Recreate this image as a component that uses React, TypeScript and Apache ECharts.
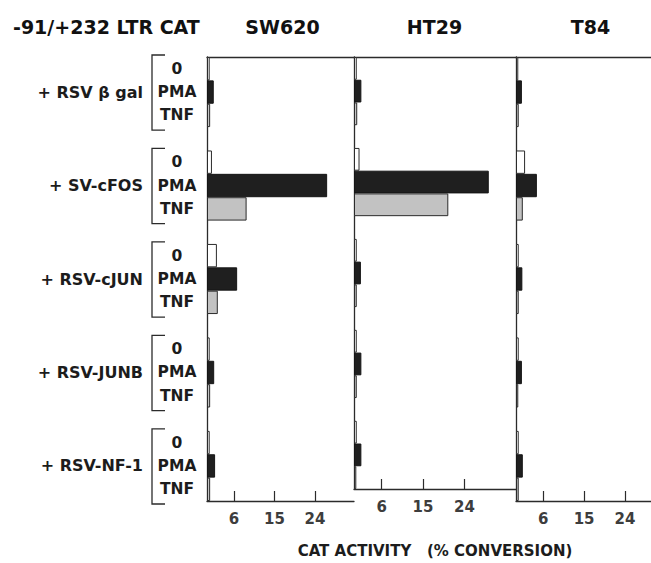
import React, { useEffect, useRef } from 'react';
import * as echarts from 'echarts';

// ---------- data ----------
const mainTitle = '-91/+232 LTR CAT';
const cellLines = ['SW620', 'HT29', 'T84'];
const groups = ['+ RSV β gal', '+ SV-cFOS', '+ RSV-cJUN', '+ RSV-JUNB', '+ RSV-NF-1'];
const conditions = ['0', 'PMA', 'TNF'];
const tickValues = [6, 15, 24];
const axisTitle = 'CAT ACTIVITY   (% CONVERSION)';

// values per group (β gal, cFOS, cJUN, JUNB, NF-1), % conversion
const sw620Zero = [0.6, 1.1, 2.2, 0.6, 0.6];
const sw620Pma = [1.5, 26.7, 6.7, 1.6, 1.8];
const sw620Tnf = [0.7, 8.8, 2.4, 0.7, 0.7];

const ht29Zero = [0.6, 1.2, 0.6, 0.6, 0.6];
const ht29Pma = [1.6, 29.3, 1.5, 1.6, 1.6];
const ht29Tnf = [0.7, 20.5, 0.6, 0.6, 0.5];

const t84Zero = [0.5, 2.0, 0.6, 0.6, 0.6];
const t84Pma = [1.3, 4.6, 1.4, 1.3, 1.5];
const t84Tnf = [0.6, 1.5, 0.6, 0.5, 0.6];

const panelValues = [
  [sw620Zero, sw620Pma, sw620Tnf],
  [ht29Zero, ht29Pma, ht29Tnf],
  [t84Zero, t84Pma, t84Tnf],
];

// ---------- layout / style ----------
const FONT = '"DejaVu Sans", "Liberation Sans", sans-serif';
const INK = '#1c1c1c';
const LINE = '#2b2b2b';
const GRID_TOP = 57;
const GRID_H = 444;
const panels = [
  { left: 207, width: 147, max: 147 / 4.5 },
  { left: 354, width: 162, max: 162 / 4.6 },
  { left: 516, width: 135, max: 135 / 4.54 },
];
const condStyles = [
  { color: '#ffffff', borderColor: LINE, borderWidth: 1 },
  { color: '#1f1f1f', borderColor: '#151515', borderWidth: 1 },
  { color: '#c2c2c2', borderColor: LINE, borderWidth: 1 },
];

// slots along the category axis: 3 conditions per group + a gap slot between groups
const slotIds: string[] = [];
const slotGroup: number[] = [];
const slotCond: number[] = [];
groups.forEach((g, gi) => {
  conditions.forEach((c, ci) => {
    slotIds.push(`${gi}-${ci}`);
    slotGroup.push(gi);
    slotCond.push(ci);
  });
  if (gi < groups.length - 1) {
    slotIds.push(`${gi}-gap`);
    slotGroup.push(gi);
    slotCond.push(-1);
  }
});

export default function App() {
  const ref = useRef<HTMLDivElement>(null);

  useEffect(() => {
    if (!ref.current) return;
    const chart = echarts.init(ref.current, undefined, { renderer: 'svg' });

    const grid = panels.map((p) => ({
      left: p.left,
      top: GRID_TOP,
      width: p.width,
      height: GRID_H,
      show: false,
      containLabel: false,
    }));

    const xAxis: any[] = panels.map((p, i) => ({
      type: 'value',
      gridIndex: i,
      min: 0,
      max: p.max,
      position: 'bottom',
      axisLine: { show: true, lineStyle: { color: LINE, width: 1.3 } },
      axisTick: {
        show: true,
        inside: true,
        length: 10,
        customValues: tickValues,
        lineStyle: { color: LINE, width: 1.2 },
      },
      axisLabel: {
        show: true,
        customValues: tickValues,
        margin: 10,
        fontFamily: FONT,
        fontWeight: 'bold',
        fontSize: 15,
        color: '#3d3d3d',
      },
      splitLine: { show: false },
      name: i === 1 ? axisTitle : '',
      nameLocation: 'middle',
      nameGap: 54,
      nameTextStyle: {
        fontFamily: FONT,
        fontWeight: 'bold',
        fontSize: 15,
        color: INK,
      },
    }));
    // top frame line of each panel
    panels.forEach((p, i) => {
      xAxis.push({
        type: 'value',
        gridIndex: i,
        min: 0,
        max: p.max,
        position: 'top',
        axisLine: { show: true, lineStyle: { color: LINE, width: 1.3 } },
        axisTick: { show: false },
        axisLabel: { show: false },
        splitLine: { show: false },
      });
    });

    const yAxis: any[] = panels.map((p, i) => ({
      type: 'category',
      gridIndex: i,
      inverse: true,
      data: slotIds,
      position: 'left',
      axisLine: { show: true, lineStyle: { color: LINE, width: 1.3 } },
      axisTick: { show: false },
      axisLabel: {
        show: i === 0,
        interval: 0,
        align: 'center',
        margin: 30,
        fontFamily: FONT,
        fontWeight: 'bold',
        fontSize: 15.5,
        color: INK,
        formatter: (_v: string, idx: number) =>
          slotCond[idx] >= 0 ? conditions[slotCond[idx]] : '',
      },
    }));
    // group names on a second category axis of the first panel
    yAxis.push({
      type: 'category',
      gridIndex: 0,
      inverse: true,
      data: slotIds,
      position: 'left',
      axisLine: { show: false },
      axisTick: { show: false },
      axisLabel: {
        show: true,
        interval: 0,
        margin: 64,
        fontFamily: FONT,
        fontWeight: 'bold',
        fontSize: 16,
        color: INK,
        formatter: (_v: string, idx: number) =>
          slotCond[idx] === 1 ? groups[slotGroup[idx]] : '',
      },
    });

    const series: any[] = [];
    panelValues.forEach((vals, pi) => {
      conditions.forEach((c, ci) => {
        series.push({
          type: 'bar',
          name: `${cellLines[pi]} ${c}`,
          xAxisIndex: pi,
          yAxisIndex: pi,
          barCategoryGap: '0%',
          barGap: '-100%',
          itemStyle: condStyles[ci],
          data: slotIds.map((_, si) =>
            slotCond[si] === ci ? vals[ci][slotGroup[si]] : '-'
          ),
        });
      });
    });

    const titleTexts = [
      { text: mainTitle, x: 13, align: 'left' },
      { text: cellLines[0], x: 282.5, align: 'center' },
      { text: cellLines[1], x: 434.5, align: 'center' },
      { text: cellLines[2], x: 590.5, align: 'center' },
    ].map((t) => ({
      type: 'text',
      x: t.x,
      y: 27,
      style: {
        text: t.text,
        align: t.align,
        verticalAlign: 'middle',
        fontFamily: FONT,
        fontWeight: 'bold',
        fontSize: 19,
        fill: '#111',
      },
    }));

    chart.setOption({
      animation: false,
      backgroundColor: '#ffffff',
      grid,
      xAxis,
      yAxis,
      series,
      graphic: titleTexts,
    });

    // brackets next to condition labels, positioned through the category axis
    const c0 = chart.convertToPixel({ yAxisIndex: 0 }, 0) as number;
    const c1 = chart.convertToPixel({ yAxisIndex: 0 }, 1) as number;
    const half = Math.abs(c1 - c0) / 2;
    const brackets = groups.map((_, gi) => {
      const first = slotIds.indexOf(`${gi}-0`);
      const last = slotIds.indexOf(`${gi}-2`);
      const top = (chart.convertToPixel({ yAxisIndex: 0 }, first) as number) - half - 2;
      const bottom = (chart.convertToPixel({ yAxisIndex: 0 }, last) as number) + half + 3;
      return {
        type: 'polyline',
        shape: {
          points: [
            [165, top],
            [152, top],
            [152, bottom],
            [165, bottom],
          ],
        },
        style: { stroke: LINE, lineWidth: 1.3, fill: 'none' },
      };
    });
    chart.setOption({ graphic: [...titleTexts, ...brackets] });

    return () => chart.dispose();
  }, []);

  return (
    <div
      ref={ref}
      style={{ position: 'absolute', left: 0, top: 0, width: 651, height: 563 }}
    />
  );
}
